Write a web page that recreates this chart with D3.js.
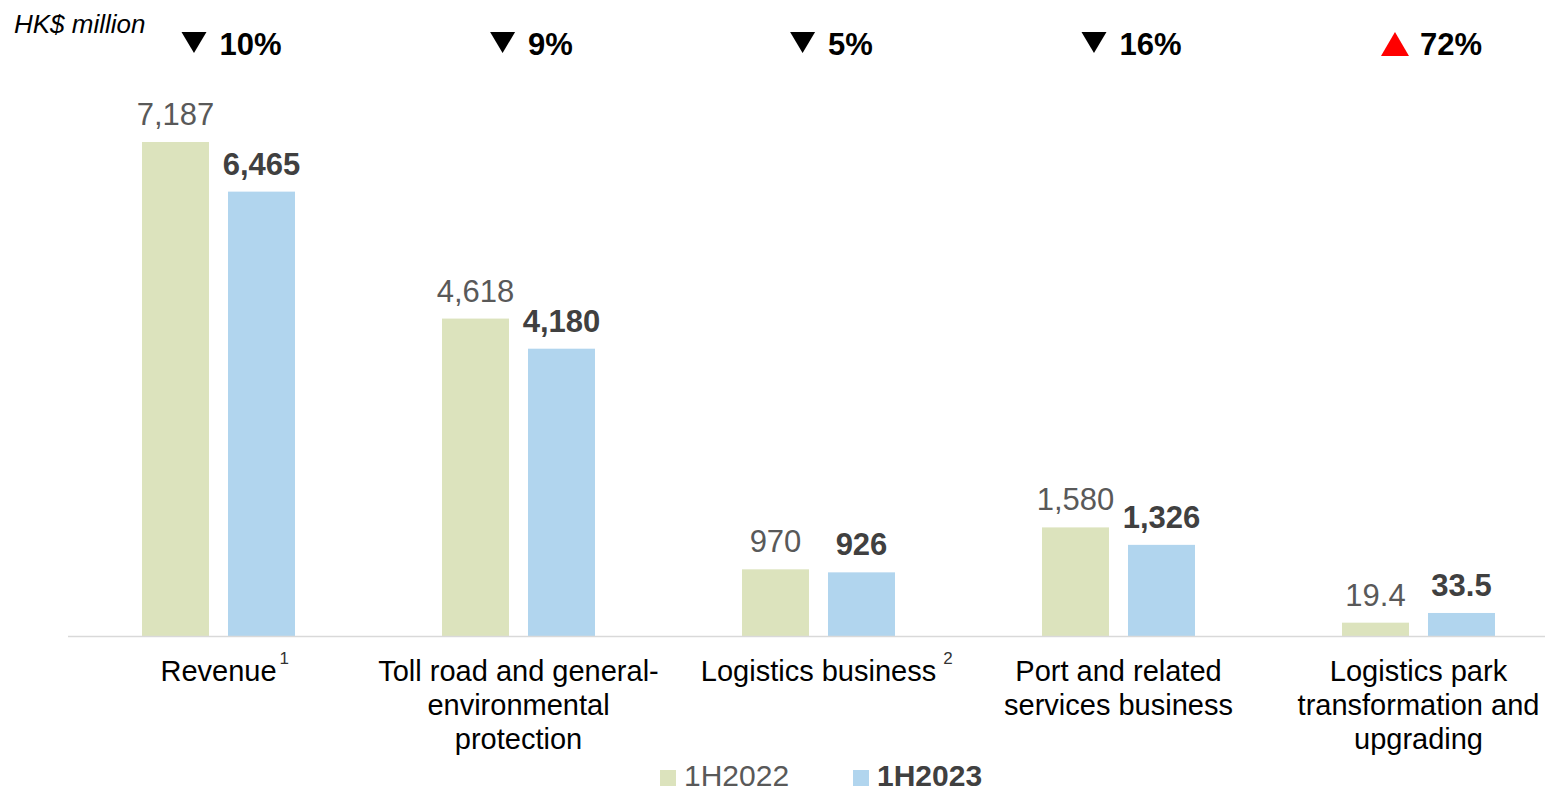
<!DOCTYPE html>
<html>
<head>
<meta charset="utf-8">
<script src="https://cdn.jsdelivr.net/npm/d3@7"></script>
<style>
  html, body { margin: 0; padding: 0; background: #fff; }
  svg { display: block; font-family: "Liberation Sans", Arial, sans-serif; }
</style>
</head>
<body>
<svg id="chart" width="1545" height="793"></svg>
<script>
// Segment revenue, HK$ million
const categories = [
  "Revenue",
  "Toll road and general-environmental protection",
  "Logistics business",
  "Port and related services business",
  "Logistics park transformation and upgrading"
];
const categoryLines = [
  ["Revenue"],
  ["Toll road and general-", "environmental", "protection"],
  ["Logistics business"],
  ["Port and related", "services business"],
  ["Logistics park", "transformation and", "upgrading"]
];
const footnotes = ["1", "", "2", "", ""];
const series = ["1H2022", "1H2023"];
const values1H2022 = [7187, 4618, 970, 1580, 19.4];
const values1H2023 = [6465, 4180, 926, 1326, 33.5];
const changePct = [-10, -9, -5, -16, 72];
// the smallest segment is plotted on its own magnified scale
const insetCategories = ["Logistics park transformation and upgrading"];
const insetMagnify = 10;

const colors = { "1H2022": "#dce3bd", "1H2023": "#b1d5ee" };
const seriesValues = { "1H2022": values1H2022, "1H2023": values1H2023 };

const svg = d3.select("#chart");
const baseY = 636, topY = 142;

const x = d3.scaleBand().domain(categories).range([68.5, 1568.5]).padding(0);
const xSub = d3.scaleBand().domain(series).range([73.5, 226.5]).paddingInner(0.221);
const yMax = d3.max(values1H2022.concat(values1H2023));
const y = d3.scaleLinear().domain([0, yMax]).range([baseY, topY]);
const yInset = d3.scaleLinear().domain([0, yMax / insetMagnify]).range([baseY, topY]);
const yFor = c => insetCategories.includes(c) ? yInset : y;

const fmt = v => Number.isInteger(v) ? d3.format(",")(v) : d3.format(".1f")(v);

// unit caption
svg.append("text")
  .attr("x", 14).attr("y", 33)
  .attr("font-size", 26).attr("font-style", "italic").attr("fill", "#000")
  .text("HK$ million");

// bars and value labels
const rows = [];
categories.forEach((c, i) => series.forEach(s => rows.push({ c, s, v: seriesValues[s][i] })));

const bars = svg.append("g");
bars.selectAll("rect").data(rows).join("rect")
  .attr("x", d => x(d.c) + xSub(d.s))
  .attr("width", xSub.bandwidth())
  .attr("y", d => yFor(d.c)(d.v))
  .attr("height", d => baseY - yFor(d.c)(d.v))
  .attr("fill", d => colors[d.s]);

bars.selectAll("text").data(rows).join("text")
  .attr("x", d => x(d.c) + xSub(d.s) + xSub.bandwidth() / 2)
  .attr("y", d => yFor(d.c)(d.v) - 17)
  .attr("text-anchor", "middle")
  .attr("font-size", 31)
  .attr("font-weight", d => d.s === "1H2023" ? "bold" : "normal")
  .attr("fill", d => d.s === "1H2023" ? "#404040" : "#595959")
  .text(d => fmt(d.v));

// baseline
svg.append("line")
  .attr("x1", 68).attr("x2", 1545)
  .attr("y1", baseY + 0.5).attr("y2", baseY + 0.5)
  .attr("stroke", "#d9d9d9").attr("stroke-width", 1.5);

// category labels with footnote markers
const xAxis = svg.append("g");
categories.forEach((c, i) => {
  const cx = x(c) + x.bandwidth() / 2;
  const lbl = xAxis.append("text")
    .attr("text-anchor", "middle")
    .attr("font-size", 29)
    .attr("fill", "#000");
  categoryLines[i].forEach((line, j) => {
    lbl.append("tspan").attr("x", cx).attr("y", 681 + j * 34).text(line);
  });
  if (footnotes[i]) {
    const w = lbl.select("tspan").node().getComputedTextLength();
    xAxis.append("text")
      .attr("x", cx + w / 2 + (i === 0 ? 3 : 7))
      .attr("y", 664)
      .attr("font-size", 17)
      .attr("fill", "#333")
      .text(footnotes[i]);
  }
});

// year-on-year change markers
const changes = svg.append("g");
categories.forEach((c, i) => {
  const cx = x(c) + x.bandwidth() / 2 + 13;
  const up = changePct[i] > 0;
  const g = changes.append("g");
  const t = g.append("text")
    .attr("y", 55)
    .attr("font-size", 31).attr("font-weight", "bold").attr("fill", "#000")
    .text(Math.abs(changePct[i]) + "%");
  const tw = t.node().getComputedTextLength();
  const triW = up ? 28 : 25, triH = up ? 24 : 21, gap = up ? 11 : 13;
  const total = triW + gap + tw;
  const x0 = cx - total / 2;
  t.attr("x", x0 + triW + gap);
  const tri = up
    ? [[x0, 56], [x0 + triW, 56], [x0 + triW / 2, 56 - triH]]
    : [[x0, 32], [x0 + triW, 32], [x0 + triW / 2, 32 + triH]];
  g.append("path")
    .attr("d", d3.line()(tri) + "Z")
    .attr("fill", up ? "#ff0000" : "#000");
});

// legend
const legend = svg.append("g");
const legendX = [660, 853];
series.forEach((s, i) => {
  legend.append("rect")
    .attr("x", legendX[i]).attr("y", 770)
    .attr("width", 16).attr("height", 16)
    .attr("fill", colors[s]);
  legend.append("text")
    .attr("x", legendX[i] + 24).attr("y", 786)
    .attr("font-size", 30)
    .attr("font-weight", i === 1 ? "bold" : "normal")
    .attr("fill", i === 1 ? "#404040" : "#595959")
    .text(s);
});
</script>
</body>
</html>
